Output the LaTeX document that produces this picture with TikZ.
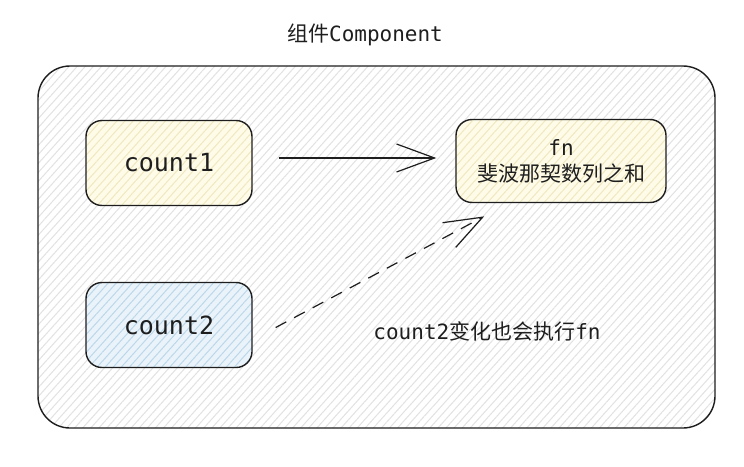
\documentclass[tikz,border=0pt]{standalone}
\usepackage{fontspec}
\setmainfont{DejaVu Sans Mono}
\newfontfamily\cjk{Noto Sans CJK SC}
\usepackage{tikz}
\usetikzlibrary{arrows.meta,positioning,calc,patterns.meta}
\definecolor{figink}{HTML}{1E1E1E}
\definecolor{figgrey}{HTML}{E2E2E2}
\definecolor{figyel}{HTML}{FEFBE8}
\definecolor{figyelline}{HTML}{F0E8C0}
\definecolor{figblu}{HTML}{E9F3F9}
\definecolor{figbluline}{HTML}{BCD7EA}

\begin{document}
\begin{tikzpicture}[x=1pt,y=-1pt,
  hatch/.style={pattern={Lines[angle=48,distance=6pt,line width=1pt]}},
  varbox/.style={draw=figink, line width=1.4pt, rounded corners=16pt,
    minimum width=166pt, minimum height=85pt, inner sep=0pt,
    font=\fontsize{25}{30}\selectfont, text=figink},
  link/.style={draw=figink, line width=1.2pt,
    -{Straight Barb[length=38pt,width=28pt]}}]
\fill[white] (0,0) rectangle (744,466);
\useasboundingbox (0,0) rectangle (744,466);

% outer component frame
\draw[figink, line width=1.4pt, rounded corners=32pt, preaction={fill=white},
  hatch, pattern color=figgrey] (38,66) rectangle (715,428);
\node[text=figink, font=\fontsize{21}{26}\selectfont] (title) at (365,35)
  {{\cjk 组件}Component};

\node[varbox, preaction={fill=figyel}, hatch, pattern color=figyelline]
  (count1) at (169,163) {count1};
\node[varbox, preaction={fill=figblu}, hatch, pattern color=figbluline]
  (count2) at (169,325) {count2};
\node[varbox, minimum width=210pt, minimum height=83pt, align=center,
  font=\fontsize{21}{26}\selectfont,
  preaction={fill=figyel}, hatch, pattern color=figyelline]
  (fn) at (561,161) {fn\\{\cjk 斐波那契数列之和}};

\draw[link, shorten <=26pt, shorten >=19pt]
  ([yshift=5pt]count1.east) -- ([yshift=5pt]count1.east -| fn.west);
\draw[link, dash pattern=on 12pt off 9pt, shorten <=26pt, shorten >=28pt]
  (count2.-10) -- (fn.219);

\node[text=figink, font=\fontsize{21}{26}\selectfont] (note) at (487,331)
  {count2{\cjk 变化也会执行}fn};
\end{tikzpicture}
\end{document}
